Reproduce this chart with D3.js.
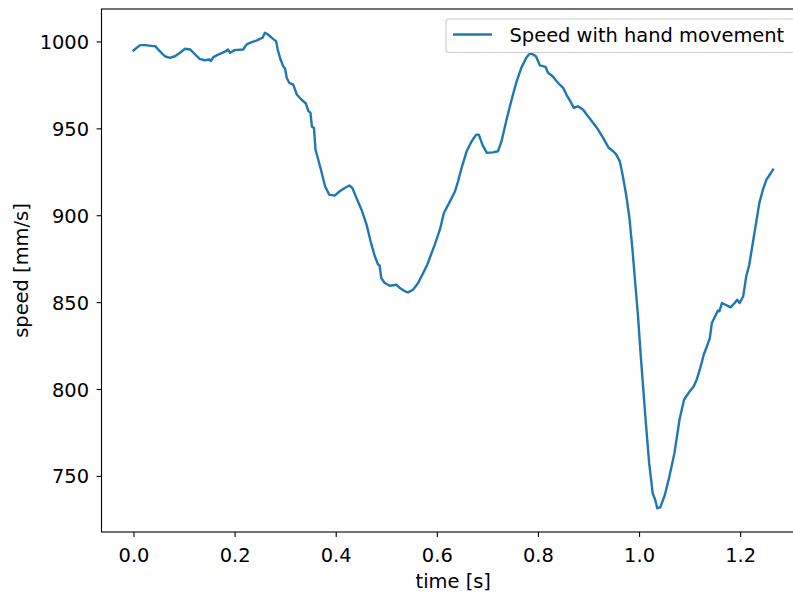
<!DOCTYPE html>
<html>
<head>
<meta charset="utf-8">
<script src="https://cdn.jsdelivr.net/npm/d3@7"></script>
<style>
  html, body { margin: 0; padding: 0; background: #fff; overflow: hidden; }
  svg { display: block; font-family: "DejaVu Sans", sans-serif; }
</style>
</head>
<body>
<svg id="chart" width="793" height="594"></svg>
<script>
const time = [0.000,0.013,0.023,0.039,0.043,0.052,0.062,0.072,0.082,0.092,0.102,0.112,0.122,0.131,0.141,0.151,0.153,0.158,0.171,0.181,0.187,0.191,0.200,0.217,0.224,0.234,0.244,0.250,0.255,0.260,0.266,0.276,0.282,0.286,0.291,0.296,0.300,0.303,0.308,0.316,0.323,0.332,0.341,0.346,0.350,0.353,0.357,0.360,0.369,0.379,0.387,0.398,0.408,0.418,0.427,0.433,0.441,0.451,0.461,0.469,0.477,0.484,0.487,0.490,0.497,0.507,0.520,0.527,0.537,0.543,0.553,0.563,0.573,0.581,0.586,0.596,0.606,0.614,0.626,0.636,0.642,0.649,0.659,0.669,0.678,0.683,0.691,0.699,0.711,0.721,0.728,0.738,0.748,0.757,0.767,0.777,0.782,0.787,0.796,0.804,0.815,0.820,0.829,0.837,0.843,0.850,0.858,0.864,0.871,0.879,0.889,0.899,0.909,0.919,0.929,0.940,0.950,0.955,0.962,0.968,0.975,0.981,0.987,0.993,0.998,1.003,1.008,1.013,1.020,1.027,1.032,1.036,1.042,1.051,1.060,1.070,1.080,1.089,1.100,1.108,1.114,1.121,1.128,1.133,1.140,1.144,1.152,1.156,1.159,1.164,1.171,1.181,1.190,1.194,1.199,1.206,1.212,1.218,1.225,1.232,1.238,1.245,1.252,1.260,1.265];
const speed = [994.8,997.9,997.9,997.3,997.3,994.4,991.5,990.6,991.5,993.5,995.8,995.4,992.5,990.0,989.2,989.6,988.7,991.0,992.9,994.1,995.4,993.5,995.0,995.4,998.3,999.6,1000.6,1001.5,1002.0,1005.0,1004.0,1001.5,1000.2,994.4,989.6,985.8,984.3,979.1,976.2,975.2,969.5,966.6,964.3,959.9,959.0,950.9,950.3,937.8,928.2,916.7,911.9,911.3,913.8,915.7,917.1,915.7,910.0,903.2,894.6,885.0,876.7,871.5,871.0,863.9,861.0,859.4,860.0,858.1,856.2,855.6,857.1,861.0,866.8,871.5,875.4,883.1,891.7,901.3,908.0,913.8,919.5,927.2,936.8,942.6,946.4,946.4,940.1,935.9,936.2,936.8,942.6,955.1,966.6,976.2,984.8,990.6,992.5,993.1,991.5,986.2,985.4,982.0,980.0,977.1,975.2,973.3,968.5,965.6,961.8,962.7,960.8,957.0,953.2,949.3,944.5,938.8,936.5,934.9,931.0,922.4,910.9,898.4,880.2,859.0,841.8,820.7,801.4,782.3,757.3,740.0,736.2,731.4,731.9,739.0,749.6,763.1,782.3,793.8,798.6,801.4,805.3,812.0,819.7,823.6,829.3,838.0,842.7,845.2,844.8,849.5,848.5,847.0,849.8,851.4,849.5,853.3,864.8,871.5,884.0,896.5,907.1,914.7,920.5,924.0,926.3];
const xTicks = [0.0, 0.2, 0.4, 0.6, 0.8, 1.0, 1.2];
const yTicks = [750, 800, 850, 900, 950, 1000];
const seriesName = "Speed with hand movement";
const xLabel = "time [s]";
const yLabel = "speed [mm/s]";

const svg = d3.select("#chart");
const L = 101.5, R = 805, T = 9, B = 532;
const color = "#1f77b4";
const fs = 19.44;

function padded(arr) {
  const [a, b] = d3.extent(arr);
  const p = (b - a) * 0.05;
  return [a - p, b + p];
}
const x = d3.scaleLinear().domain(padded(time)).range([L, R]);
const y = d3.scaleLinear().domain(padded(speed)).range([B, T]);

svg.append("defs").append("clipPath").attr("id", "clip")
  .append("rect").attr("x", L).attr("y", T).attr("width", R - L).attr("height", B - T);

const data = time.map((t, i) => [t, speed[i]]);
svg.append("path")
  .datum(data)
  .attr("clip-path", "url(#clip)")
  .attr("fill", "none")
  .attr("stroke", color)
  .attr("stroke-width", 2.4)
  .attr("stroke-linejoin", "round")
  .attr("stroke-linecap", "square")
  .attr("d", d3.line().x(d => x(d[0])).y(d => y(d[1])));

const xAxis = d3.axisBottom(x).tickValues(xTicks).tickFormat(d3.format(".1f")).tickSizeOuter(0).tickSize(4.9).tickPadding(4.9);
const yAxis = d3.axisLeft(y).tickValues(yTicks).tickFormat(d3.format("d")).tickSizeOuter(0).tickSize(4.9).tickPadding(7.5);

const gx = svg.append("g").attr("transform", `translate(0,${B})`).call(xAxis);
const gy = svg.append("g").attr("transform", `translate(${L},0)`).call(yAxis);
[gx, gy].forEach(g => {
  g.attr("font-size", fs).attr("font-family", "DejaVu Sans, sans-serif");
  g.select(".domain").remove();
  g.selectAll(".tick line").attr("stroke", "#000").attr("stroke-width", 1.1);
  g.selectAll(".tick text").attr("fill", "#000").attr("font-size", fs);
});
gx.selectAll(".tick text").attr("y", 29.5).attr("dy", 0);
gy.selectAll(".tick text").attr("dy", "0.36em");

svg.append("rect").attr("x", L).attr("y", T).attr("width", R - L).attr("height", B - T)
  .attr("fill", "none").attr("stroke", "#000").attr("stroke-width", 1.1);

svg.append("text").attr("x", (L + R) / 2).attr("y", 588).attr("text-anchor", "middle")
  .attr("font-size", fs).attr("fill", "#000").text(xLabel);
svg.append("text").attr("transform", `translate(28,${(T + B) / 2}) rotate(-90)`).attr("text-anchor", "middle")
  .attr("font-size", fs).attr("fill", "#000").text(yLabel);

const lg = svg.append("g");
lg.append("rect").attr("x", 446).attr("y", 19).attr("width", 349.5).attr("height", 33.5).attr("rx", 3)
  .attr("fill", "#fff").attr("fill-opacity", 0.8).attr("stroke", "#cccccc").attr("stroke-width", 1.1);
lg.append("line").attr("x1", 453).attr("x2", 492).attr("y1", 34.5).attr("y2", 34.5)
  .attr("stroke", color).attr("stroke-width", 2.4);
lg.append("text").attr("x", 509.5).attr("y", 41.5).attr("font-size", fs).attr("fill", "#000").text(seriesName);
</script>
</body>
</html>
